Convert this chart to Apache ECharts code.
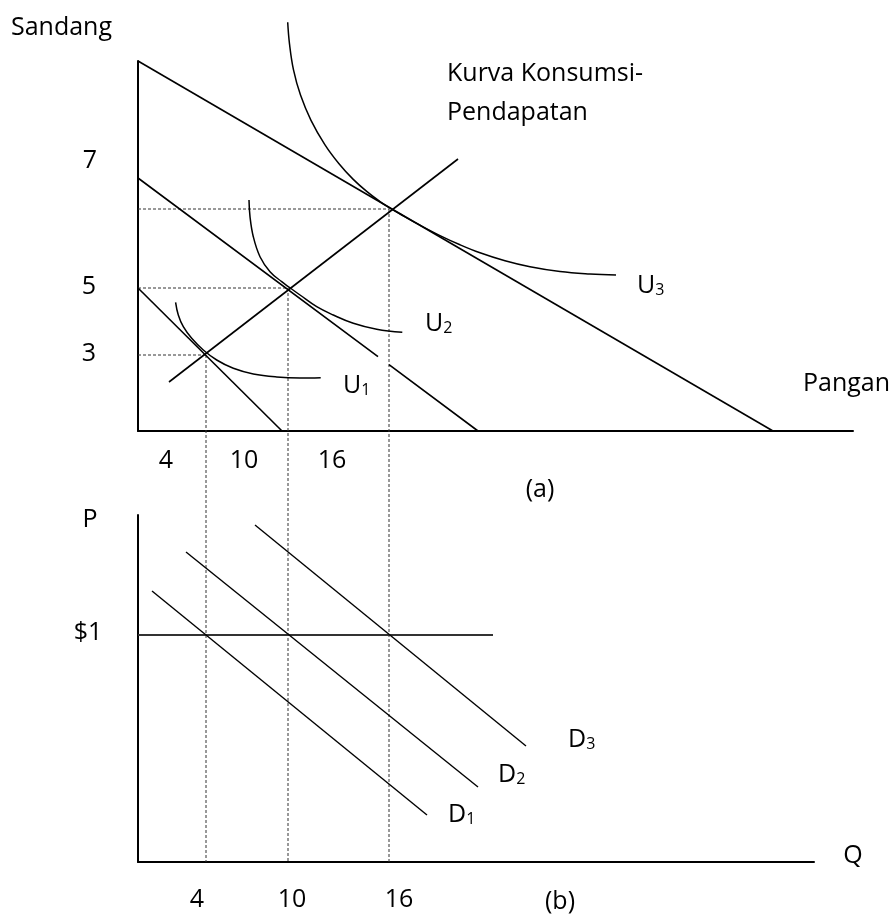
<!DOCTYPE html>
<html>
<head>
<meta charset="utf-8">
<title>Kurva Konsumsi-Pendapatan</title>
<script src="https://cdn.jsdelivr.net/npm/echarts@6/dist/echarts.min.js"></script>
<style>
  html, body { margin: 0; padding: 0; background: #ffffff; }
  #main { width: 893px; height: 918px; }
</style>
</head>
<body>
<div id="main"></div>
<script>
// ---------- Panel (a): Pangan (x) against Sandang (y), drawing units ----------
const budgetLine1 = [[0, 14.3], [14.4, 0]];
// the middle budget line has a short break where the guide line crosses it
const budgetLine2 = [[0, 25.3], [24.0, 7.44], [24.5, '-'], [25.1, 6.63], [34.0, 0]];
const budgetLine3 = [[0, 37.0], [63.5, 0]];
const incomeConsumptionCurve = [[3.1, 4.9], [32.0, 27.2]];
const indifferenceU1 = [[3.76, 12.87], [4.03, 11.6], [4.53, 10.43], [5.37, 9.27], [6.53, 8.1], [7.87, 7.1],
  [9.53, 6.27], [11.53, 5.7], [13.87, 5.4], [16.2, 5.3], [18.27, 5.33]];
const indifferenceU2 = [[11.1, 23.1], [11.2, 21.43], [11.53, 19.43], [12.2, 17.43], [13.2, 15.93], [14.37, 14.93],
  [15.13, 14.37], [16.2, 13.6], [17.87, 12.43], [19.53, 11.6], [21.53, 10.77], [23.87, 10.17], [26.43, 9.87]];
const indifferenceU3 = [[14.97, 40.87], [15.15, 38.71], [15.55, 36.11], [16.25, 33.59], [17.3, 31.07],
  [18.7, 28.62], [20.1, 26.73], [21.5, 25.19], [22.9, 23.93], [24.2, 22.94], [25.2, 22.28], [26.2, 21.7],
  [28.2, 20.58], [30.2, 19.54], [32.2, 18.62], [34.2, 17.82], [36.7, 17.02], [39.2, 16.42], [42.2, 15.94],
  [45.2, 15.7], [47.8, 15.6]];
const optimumPangan = [6.8, 15.0, 25.1];
const optimumSandang = [7.6, 14.3, 22.2];
const sandangTickLabels = ['7', '5', '3'];
const panganTickLabels = ['4', '10', '16'];

// ---------- Panel (b): Q (x) against P (y), drawing units ----------
const priceLevel = 22.7;
const priceLineEnd = 35.5;
const demandD1 = [[1.4, 27.1], [28.9, 4.7]];
const demandD2 = [[4.8, 31.0], [34.0, 7.5]];
const demandD3 = [[11.7, 33.7], [38.8, 11.6]];
const quantityTickLabels = ['4', '10', '16'];

// ---------- styling ----------
const FONT_FAMILY = '"Open Sans", "Noto Sans", sans-serif';
const FONT_SIZE = 25;
const INK = '#000000';

function solid(name, data, grid, width, extra) {
  return Object.assign({
    name: name,
    type: 'line',
    xAxisIndex: grid,
    yAxisIndex: grid,
    data: data,
    showSymbol: false,
    symbol: 'none',
    clip: false,
    silent: true,
    animation: false,
    lineStyle: { color: INK, width: width }
  }, extra || {});
}

function guide(name, data, grid) {
  return {
    id: name,
    name: name,
    type: 'line',
    xAxisIndex: grid,
    yAxisIndex: grid,
    data: data,
    showSymbol: false,
    symbol: 'none',
    clip: false,
    silent: true,
    animation: false,
    z: 1,
    lineStyle: { color: '#333333', width: 1, type: [3, 2] }
  };
}

function hiddenAxis(grid, max, extra) {
  return Object.assign({
    type: 'value',
    gridIndex: grid,
    min: 0,
    max: max,
    axisLine: { show: true, onZero: false, lineStyle: { color: INK, width: 2 } },
    axisTick: { show: false },
    axisLabel: { show: false },
    splitLine: { show: false }
  }, extra || {});
}

// plain text annotation
function label(text, x, y, align) {
  return {
    type: 'text',
    x: x,
    y: y,
    silent: true,
    style: {
      text: text,
      font: FONT_SIZE + 'px ' + FONT_FAMILY,
      fill: INK,
      align: align || 'center',
      verticalAlign: 'middle',
      textAlign: align || 'center',
      textVerticalAlign: 'middle'
    }
  };
}

// curve name with a subscript index, e.g. U₁, D₂
function subLabel(main, index, x, y) {
  return {
    type: 'text',
    x: x,
    y: y,
    silent: true,
    style: {
      text: '{m|' + main + '}{s|' + index + '}',
      fill: INK,
      align: 'left',
      verticalAlign: 'middle',
      textAlign: 'left',
      textVerticalAlign: 'middle',
      rich: {
        m: { fontSize: FONT_SIZE, fontFamily: FONT_FAMILY, lineHeight: 25, fill: INK, color: INK },
        s: { fontSize: 16, fontFamily: FONT_FAMILY, lineHeight: 10, verticalAlign: 'bottom', fill: INK, color: INK }
      }
    }
  };
}

const graphics = [
  label('Sandang', 11, 28, 'left'),
  label('Kurva Konsumsi-', 447, 74, 'left'),
  label('Pendapatan', 447, 113, 'left'),
  label('Pangan', 803, 384, 'left'),
  label(sandangTickLabels[0], 90, 161),
  label(sandangTickLabels[1], 89, 287),
  label(sandangTickLabels[2], 89, 354),
  label(panganTickLabels[0], 166, 461),
  label(panganTickLabels[1], 244, 461),
  label(panganTickLabels[2], 332, 461),
  label('(a)', 540, 490),
  subLabel('U', '1', 343, 386),
  subLabel('U', '2', 425, 324),
  subLabel('U', '3', 637, 286),
  label('P', 90, 520),
  label('$1', 88, 633),
  label('Q', 853, 856),
  label(quantityTickLabels[0], 197, 900),
  label(quantityTickLabels[1], 292, 900),
  label(quantityTickLabels[2], 399, 900),
  label('(b)', 560, 902),
  subLabel('D', '1', 448, 815),
  subLabel('D', '2', 498, 775),
  subLabel('D', '3', 568, 740)
];

const horizontalGuides = optimumPangan.map(function (q, i) {
  return guide('levelGuide' + i, [[0, optimumSandang[i]], [q, optimumSandang[i]]], 0);
});

const option = {
  backgroundColor: '#ffffff',
  animation: false,
  grid: [
    { left: 138, top: 61, width: 715, height: 370 },
    { left: 138, top: 515, width: 676, height: 347 }
  ],
  xAxis: [hiddenAxis(0, 71.5), hiddenAxis(1, 67.6)],
  yAxis: [hiddenAxis(0, 37), hiddenAxis(1, 34.7)],
  graphic: graphics,
  series: horizontalGuides.concat([
    solid('Garis anggaran 1', budgetLine1, 0, 1.6),
    solid('Garis anggaran 2', budgetLine2, 0, 1.6, { connectNulls: false }),
    solid('Garis anggaran 3', budgetLine3, 0, 1.6),
    solid('Kurva Konsumsi-Pendapatan', incomeConsumptionCurve, 0, 1.6),
    solid('U1', indifferenceU1, 0, 1.5, { smooth: 0.4 }),
    solid('U2', indifferenceU2, 0, 1.5, { smooth: 0.4 }),
    solid('U3', indifferenceU3, 0, 1.5, { smooth: 0.4 }),
    solid('Harga $1', [[0, priceLevel], [priceLineEnd, priceLevel]], 1, 2, { lineStyle: { color: '#333333', width: 2 } }),
    solid('D1', demandD1, 1, 1.4),
    solid('D2', demandD2, 1, 1.4),
    solid('D3', demandD3, 1, 1.4)
  ])
};

const chart = echarts.init(document.getElementById('main'), null, { renderer: 'canvas' });
chart.setOption(option);

// vertical guides run from each optimum in panel (a) down to the Q axis of panel (b)
const qAxisPixel = chart.convertToPixel({ xAxisIndex: 1, yAxisIndex: 1 }, [0, 0]);
const qAxisInPanelA = chart.convertFromPixel({ xAxisIndex: 0, yAxisIndex: 0 }, qAxisPixel)[1];
chart.setOption({
  series: optimumPangan.map(function (q, i) {
    return guide('dropGuide' + i, [[q, optimumSandang[i]], [q, qAxisInPanelA]], 0);
  })
});
</script>
</body>
</html>
